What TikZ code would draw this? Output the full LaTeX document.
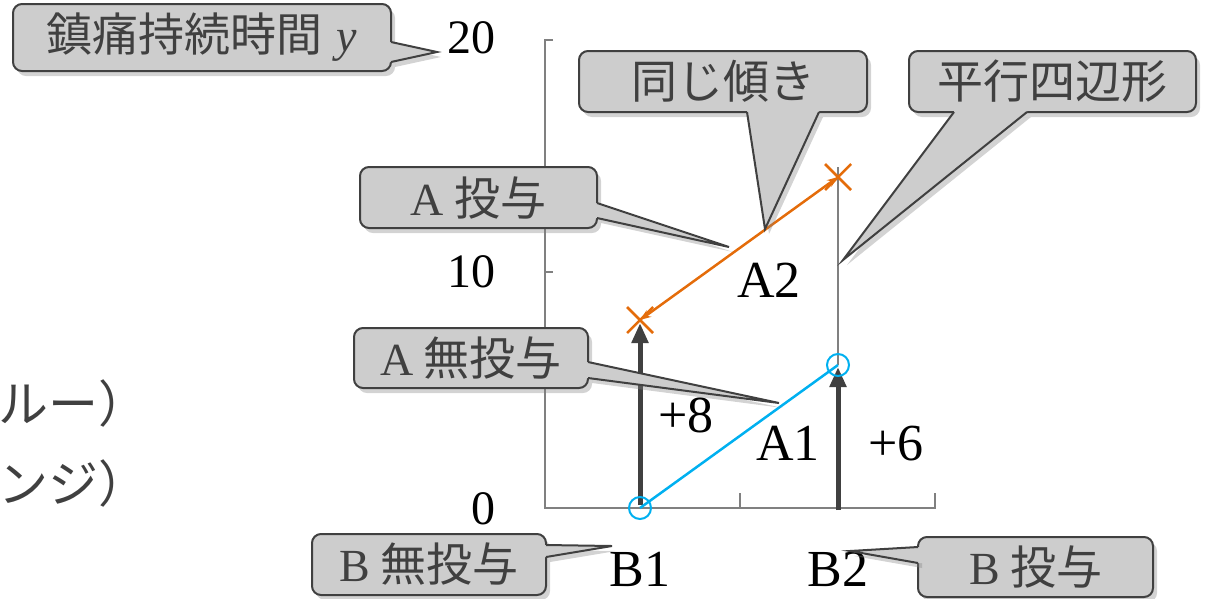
\documentclass[tikz,border=0pt]{standalone}
\usepackage{fontspec}
\setmainfont{Liberation Serif}
\newfontfamily\jp{Noto Sans CJK JP}
\usetikzlibrary{arrows.meta,shadows,calc}

\definecolor{orangeA}{RGB}{228,108,10}
\definecolor{bleuB}{RGB}{0,176,240}
\definecolor{grisbulle}{RGB}{205,205,205}
\definecolor{grisfonce}{RGB}{64,64,64}
\definecolor{grisaxe}{RGB}{128,128,128}
\newcommand{\tbulle}{\fontsize{46}{50}\selectfont}
\newcommand{\tlegende}{\fontsize{50}{54}\selectfont}
\newcommand{\tchiffre}{\fontsize{48}{52}\selectfont}
\newcommand{\tlabel}{\fontsize{52}{56}\selectfont}

\tikzset{
  bulle/.style={draw=grisfonce,line width=2pt,fill=grisbulle,rounded corners=9pt,
    text=grisfonce,font={\jp\tbulle},inner sep=0pt,outer sep=0pt,
    drop shadow={opacity=0.35,shadow xshift=4pt,shadow yshift=-5pt}},
  pointe/.style={fill=grisbulle,drop shadow={opacity=0.35,shadow xshift=4pt,shadow yshift=-5pt}},
  bord/.style={draw=grisfonce,line width=2pt},
  fleche/.style={-{Triangle[length=20pt,width=16pt]},line width=5pt,draw=grisfonce},
  marque/.style={orangeA,line width=2.5pt}
}
% bec d'une bulle : base #1 #2, pointe #3, decalage vers l'interieur #4
\newcommand{\bec}[4]{%
  \fill[pointe] (#1) -- (#3) -- (#2) -- cycle;
  \fill[grisbulle] ($(#1)+#4$) -- (#1) -- (#3) -- (#2) -- ($(#2)+#4$) -- cycle;
  \draw[bord] (#1) -- (#3) -- (#2);}

\begin{document}
\begin{tikzpicture}[x=1pt,y=-1pt]
  \useasboundingbox (0,0) rectangle (1217,598);
  \clip (0,0) rectangle (1217,598);
  % legende coupee
  \node[anchor=west,inner sep=0pt,text=grisfonce,font={\jp\tlegende}] (legb) at (-2,403) {ルー）};
  \node[anchor=west,inner sep=0pt,text=grisfonce,font={\jp\tlegende}] (lega) at (-2,483) {ンジ）};
  % axes
  \draw[grisaxe,line width=1.5pt] (553,40) -- (545,40) -- (545,508) -- (935,508) -- (935,493);
  \draw[grisaxe,line width=1.5pt] (545,272) -- (553,272);
  \draw[grisaxe,line width=1.5pt] (740,508) -- (740,493);
  \foreach \v/\yy in {0/509,10/272,20/38}
    \node[anchor=east,inner sep=0pt,font=\tchiffre] (y\v) at (496,\yy) {\v};
  % points
  \coordinate (p11) at (640,508);
  \coordinate (p21) at (838,365);
  \coordinate (p12) at (640,320);
  \coordinate (p22) at (838,177);
  \coordinate (base2) at (p21 |- p11);
  \draw[grisaxe,line width=1.5pt] ([yshift=10pt]p22) -- (p21);
  \draw[fleche] ([yshift=3pt]p11) -- ([yshift=-3pt]p12);
  \draw[fleche] ([yshift=-2pt]base2) -- ([yshift=-2pt]p21);
  \draw[bleuB,line width=2.5pt] (p11) -- (p21);
  \draw[bleuB,line width=2pt] (p11) circle[radius=11pt] (p21) circle[radius=11pt];
  \draw[orangeA,line width=2.5pt,{Stealth[length=11pt,width=8pt]}-{Stealth[length=11pt,width=8pt]}] (p12) -- (p22);
  \draw[marque] (p12) +(-13,-13) -- +(13,13) +(-13,13) -- +(13,-13);
  \draw[marque] (p22) +(-13,-13) -- +(13,13) +(-13,13) -- +(13,-13);
  % etiquettes
  \node[font=\tlabel] (la2) at (769,280) {A2};
  \node[font=\tlabel] (la1) at (788,443) {A1};
  \node[font=\tlabel] (plus8) at (686,415) {+8};
  \node[font=\tlabel] (plus6) at (896,444) {+6};
  \node[font=\tlabel] (lb1) at (640,569) {B1};
  \node[font=\tlabel] (lb2) at (838,569) {B2};
  % bulles
  \node[bulle,minimum width=378pt,minimum height=67pt] (tmax) at (202,37.5) {鎮痛持続時間\hspace{0.3em}\textit{\rmfamily y}};
  \coordinate (ttmax) at (437,52);
  \coordinate (tmax1) at ([yshift=-4.5pt]tmax.east);
  \coordinate (tmax2) at ([yshift=-24.5pt]tmax.east);
  \bec{tmax1}{tmax2}{ttmax}{(-5,0)}
  \node[bulle,minimum width=288pt,minimum height=61pt] (pente) at (723,81.5) {同じ傾き};
  \coordinate (tpente) at (765,229);
  \coordinate (pente1) at ([xshift=24pt]pente.south);
  \coordinate (pente2) at ([xshift=96pt]pente.south);
  \bec{pente1}{pente2}{tpente}{(0,-5)}
  \node[bulle,minimum width=287pt,minimum height=61pt] (para) at (1052.5,81.5) {平行四辺形};
  \coordinate (tpara) at (843,260);
  \coordinate (para1) at ([xshift=-98.5pt]para.south);
  \coordinate (para2) at ([xshift=-25.5pt]para.south);
  \bec{para1}{para2}{tpara}{(0,-5)}
  \node[bulle,minimum width=237pt,minimum height=61pt] (adon) at (478.5,197.5) {\textrm{A} 投与};
  \coordinate (tadon) at (729,247);
  \coordinate (adon1) at ([yshift=-5.5pt]adon.east);
  \coordinate (adon2) at ([yshift=-20.5pt]adon.east);
  \bec{adon1}{adon2}{tadon}{(-5,0)}
  \node[bulle,minimum width=234pt,minimum height=60pt] (asans) at (471,358) {\textrm{A} 無投与};
  \coordinate (tasans) at (779,403);
  \coordinate (asans1) at ([yshift=-4pt]asans.east);
  \coordinate (asans2) at ([yshift=-20pt]asans.east);
  \bec{asans1}{asans2}{tasans}{(-5,0)}
  \node[bulle,minimum width=234pt,minimum height=61pt] (bsans) at (429,564.5) {\textrm{B} 無投与};
  \coordinate (tbsans) at (612,546);
  \coordinate (bsans1) at ([yshift=19.5pt]bsans.east);
  \coordinate (bsans2) at ([yshift=7.5pt]bsans.east);
  \bec{bsans1}{bsans2}{tbsans}{(-5,0)}
  \node[bulle,minimum width=235pt,minimum height=60pt] (bdon) at (1035.5,567) {\textrm{B} 投与};
  \coordinate (tbdon) at (850,551);
  \coordinate (bdon1) at ([yshift=20pt]bdon.west);
  \coordinate (bdon2) at ([yshift=4pt]bdon.west);
  \bec{bdon1}{bdon2}{tbdon}{(5,0)}
\end{tikzpicture}
\end{document}
